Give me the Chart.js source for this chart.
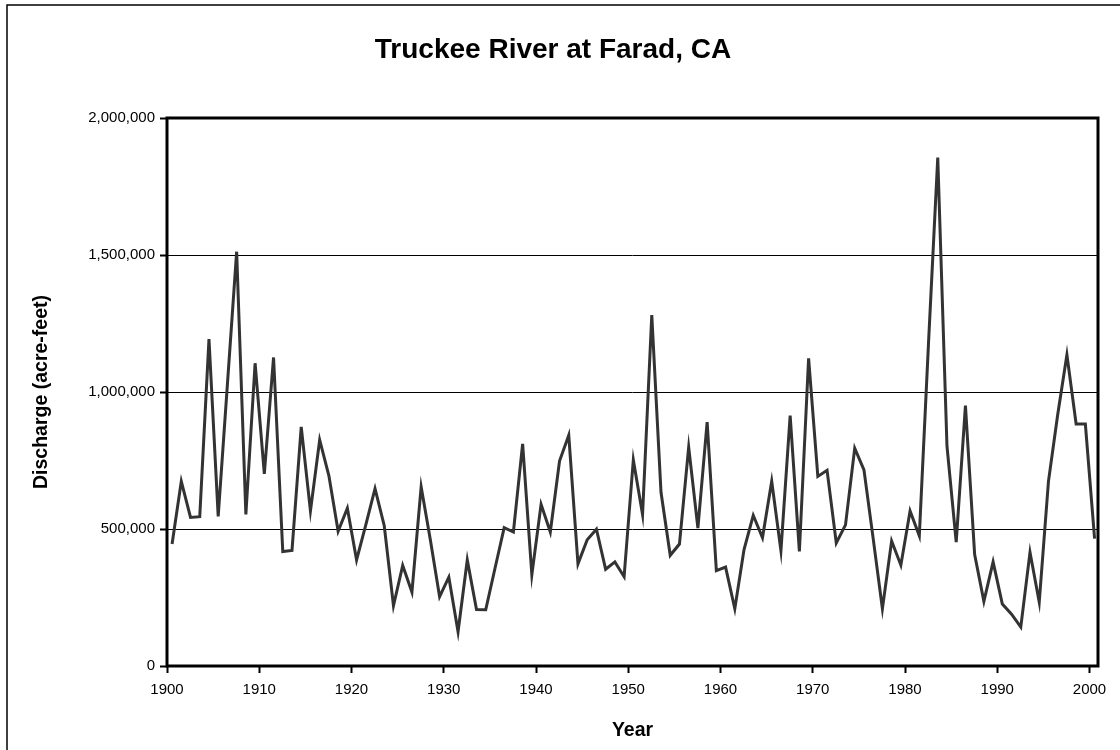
<!DOCTYPE html>
<html lang="en">
<head>
  <meta charset="UTF-8">
  <title>Truckee River at Farad, CA</title>
  <script src="https://cdn.jsdelivr.net/npm/chart.js"></script>
  <style>
    body { margin: 0; background: #fff; }
    #wrap { width: 1120px; height: 750px; }
  </style>
</head>
<body>
  <div id="wrap"><canvas id="graficoCaudal" width="1120" height="750"></canvas></div>

  <script>
    // water years 1900-2000
    const anios = Array.from({ length: 101 }, (_, i) => 1900 + i);
    const caudal = [
      445000, 674000, 542000, 545000, 1193000, 546000, 1029000, 1512000, 553000, 1105000,
      701000, 1126000, 418000, 422000, 873000, 566000, 825000, 694000, 492000, 576000,
      387000, 515000, 647000, 512000, 220000, 367000, 270000, 654000, 460000, 253000,
      324000, 125000, 387000, 206000, 205000, 356000, 505000, 489000, 811000, 333000,
      590000, 489000, 748000, 842000, 373000, 461000, 499000, 353000, 380000, 326000,
      752000, 553000, 1281000, 634000, 404000, 445000, 799000, 503000, 890000, 348000,
      361000, 209000, 425000, 550000, 468000, 674000, 421000, 914000, 418000, 1123000,
      692000, 714000, 449000, 515000, 795000, 716000, 465000, 209000, 456000, 368000,
      566000, 475000, 1180000, 1856000, 802000, 452000, 950000, 407000, 236000, 380000,
      226000, 189000, 142000, 415000, 233000, 674000, 917000, 1136000, 883000, 883000,
      465000
    ];
    const ticksAnio = [1900, 1910, 1920, 1930, 1940, 1950, 1960, 1970, 1980, 1990, 2000];
    const ticksCaudal = [0, 500000, 1000000, 1500000, 2000000];

    // points sit mid-year, like the category axis of the original
    const puntos = anios.map((a, i) => ({ x: a + 0.55, y: caudal[i] }));

    const marcos = {
      id: 'marcos',
      afterDraw(chart) {
        const { ctx, chartArea: a } = chart;
        ctx.save();
        ctx.strokeStyle = '#000';
        ctx.lineWidth = 3;
        ctx.strokeRect(a.left, a.top, a.right - a.left, a.bottom - a.top);
        ctx.lineWidth = 1.5;
        ctx.strokeRect(7, 5, 1200, 800);
        ctx.restore();
      }
    };

    const fuente = "Arial, 'Liberation Sans', sans-serif";

    new Chart(document.getElementById('graficoCaudal'), {
      type: 'line',
      data: {
        datasets: [{
          label: 'Discharge',
          data: puntos,
          borderColor: '#333333',
          borderWidth: 3,
          pointRadius: 0,
          tension: 0,
          fill: false
        }]
      },
      options: {
        responsive: false,
        animation: false,
        layout: { padding: { left: 8, right: 22, top: 0, bottom: 0 } },
        plugins: {
          legend: { display: false },
          tooltip: { enabled: false },
          title: {
            display: true,
            text: 'Truckee River at Farad, CA',
            color: '#000',
            font: { family: fuente, size: 28, weight: 'bold', lineHeight: 1.2 },
            padding: { top: 33, bottom: 51.4 }
          }
        },
        scales: {
          x: {
            type: 'linear',
            min: 1900,
            max: 2000.92,
            afterBuildTicks: s => { s.ticks = ticksAnio.map(v => ({ value: v })); },
            afterFit: s => { s.height = 84; },
            ticks: {
              color: '#000',
              font: { family: fuente, size: 15 },
              padding: 8,
              maxRotation: 0,
              callback: v => String(v)
            },
            grid: { drawOnChartArea: false, drawTicks: true, tickLength: 7, tickColor: '#000', tickWidth: 2 },
            border: { display: false },
            title: {
              display: true,
              text: 'Year',
              color: '#000',
              font: { family: fuente, size: 19.5, weight: 'bold', lineHeight: 1.2 },
              padding: { top: 0, bottom: 8 }
            }
          },
          y: {
            min: 0,
            max: 2000000,
            afterBuildTicks: s => { s.ticks = ticksCaudal.map(v => ({ value: v })); },
            afterFit: s => { s.width = 159; },
            ticks: {
              color: '#000',
              font: { family: fuente, size: 15 },
              padding: 5,
              callback: v => v.toLocaleString('en-US')
            },
            grid: { color: '#000', lineWidth: 1, drawTicks: true, tickLength: 7, tickColor: '#000', tickWidth: 2 },
            border: { display: false },
            title: {
              display: true,
              text: 'Discharge (acre-feet)',
              color: '#000',
              font: { family: fuente, size: 19.5, weight: 'bold', lineHeight: 1.2 },
              padding: { top: 22, bottom: 0 }
            }
          }
        }
      },
      plugins: [marcos]
    });
  </script>
</body>
</html>
